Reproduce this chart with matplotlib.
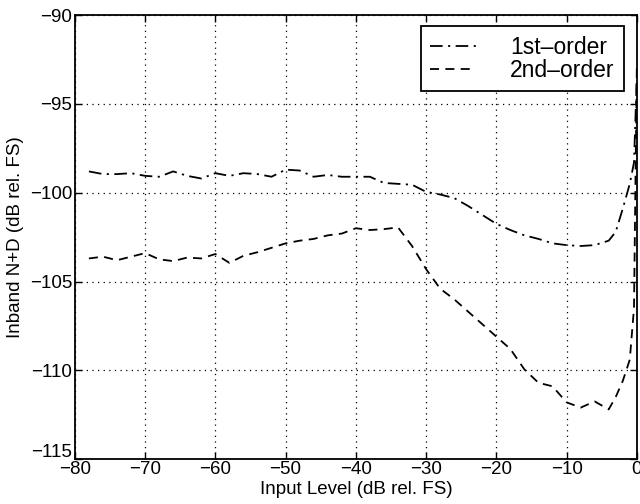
import matplotlib
matplotlib.use("Agg")
import matplotlib.pyplot as plt
import matplotlib.transforms as mtransforms
import numpy as np

plt.rcParams['font.family'] = ['Liberation Sans', 'DejaVu Sans']

level = [-78, -76, -74, -72, -70, -68, -66, -64, -62, -60,
         -58, -56, -54, -52, -50, -48, -46, -44, -42, -40,
         -38, -36, -34, -32, -30, -28, -26, -24, -22, -20,
         -18, -16, -14, -12, -10, -8, -6, -4, -3, -2, -1, -0.4, 0]

first_order = [-98.8, -98.95, -98.95, -98.9, -99.05, -99.1, -98.8, -99.05, -99.2, -98.9,
               -99.05, -98.9, -98.95, -99.1, -98.7, -98.75, -99.1, -99.0, -99.1, -99.1,
               -99.1, -99.45, -99.5, -99.55, -99.95, -100.1, -100.3, -100.75, -101.25, -101.75,
               -102.1, -102.4, -102.6, -102.85, -102.95, -103.0, -102.95, -102.7, -102.2, -100.9,
               -99.5, -98.3, -93.5]

second_order = [-103.7, -103.6, -103.8, -103.6, -103.4, -103.75, -103.85, -103.65, -103.7, -103.45,
                -103.95, -103.55, -103.35, -103.1, -102.85, -102.7, -102.6, -102.4, -102.3, -102.0,
                -102.1, -102.05, -101.95, -103.0, -104.3, -105.4, -106.0, -106.7, -107.4, -108.1,
                -108.8, -109.95, -110.7, -110.9, -111.8, -112.1, -111.75, -112.2, -111.5, -110.6,
                -109.4, -106.5, -93.0]

xticks = list(range(-80, 1, 10))
yticks = list(range(-115, -89, 5))

fig = plt.figure(figsize=(6.4, 5.04), dpi=100)
ax = fig.add_axes([0.117, 0.089, 0.878, 0.881])

ax.plot(level, first_order, color='black', lw=1.3, dashes=(7, 3, 1.2, 3),
        label='1st\u2013order')
ax.plot(level, second_order, color='black', lw=1.3, dashes=(5, 3.5),
        label='2nd\u2013order')

ax.set_xlim(-80, 0)
ax.set_ylim(-115, -90)
ax.set_xticks(xticks)
ax.set_yticks(yticks)
ax.set_xticklabels(['\u2212%d' % abs(v) if v != 0 else '0' for v in xticks])
ax.set_yticklabels(['\u2212%d' % abs(v) for v in yticks])
ax.tick_params(direction='in', top=True, right=True, labelsize=13.5, length=5,
               width=1, colors='black')
ax.tick_params(axis='x', pad=1.5)
ax.tick_params(axis='y', pad=2)
ax.grid(True, color='black', linestyle=(0, (1, 3.5)), lw=0.9)
for sp in ax.spines.values():
    sp.set_linewidth(1.3)

# raise the bottom y label a little, like the original
lab = ax.get_yticklabels()[0]
lab.set_transform(lab.get_transform() + mtransforms.ScaledTranslation(0, 6 / 72, fig.dpi_scale_trans))

ax.set_xlabel('Input Level (dB rel. FS)', fontsize=13.5, labelpad=2)
ax.set_ylabel('Inband N+D (dB rel. FS)', fontsize=13.5, labelpad=4)

leg = ax.legend(loc='upper right', bbox_to_anchor=(0.985, 0.985), fontsize=16.5,
                frameon=True, fancybox=False, edgecolor='black', handlelength=2.0,
                handletextpad=1.5, borderpad=0.4, labelspacing=0.0,
                borderaxespad=0.2)
leg.get_frame().set_linewidth(1.3)
leg.get_frame().set_alpha(1)

fig.savefig('out.png', dpi=100)
